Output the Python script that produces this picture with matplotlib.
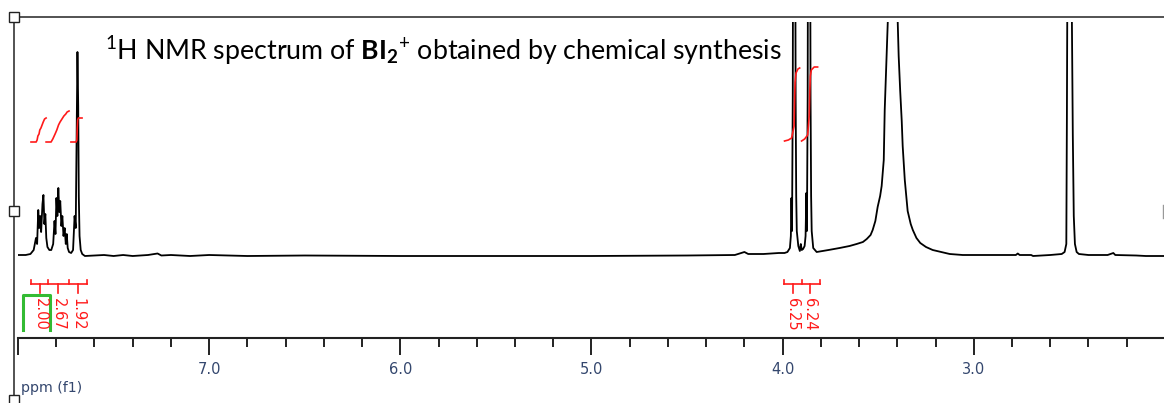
import matplotlib
matplotlib.use("Agg")
import matplotlib.pyplot as plt
from matplotlib.lines import Line2D

# spectrum trace (ppm, intensity in arbitrary units)
ppm = [8.00, 7.96, 7.935, 7.918, 7.906, 7.900, 7.894, 7.889, 7.884, 7.879, 7.872, 7.867,
       7.862, 7.857, 7.852, 7.846, 7.836, 7.826, 7.816, 7.809, 7.804, 7.799, 7.794, 7.789,
       7.784, 7.779, 7.773, 7.768, 7.762, 7.756, 7.750, 7.745, 7.740, 7.733, 7.722, 7.712,
       7.704, 7.698, 7.694, 7.689, 7.685, 7.682, 7.678, 7.672, 7.664, 7.65, 7.55, 7.50,
       7.45, 7.40, 7.32, 7.27, 7.25, 7.20, 7.10, 7.00, 6.80, 6.50, 6.00, 5.50, 5.00, 4.50,
       4.25, 4.20, 4.18, 4.10, 4.02, 3.99, 3.975, 3.962, 3.957, 3.954, 3.951, 3.947, 3.944,
       3.936, 3.932, 3.929, 3.926, 3.918, 3.910, 3.905, 3.900, 3.893, 3.885, 3.880, 3.876,
       3.873, 3.869, 3.866, 3.858, 3.854, 3.851, 3.848, 3.840, 3.822, 3.76, 3.702, 3.65,
       3.613, 3.580, 3.560, 3.540, 3.529, 3.515, 3.503, 3.490, 3.482, 3.471, 3.466, 3.455,
       3.450, 3.440, 3.425, 3.410, 3.398, 3.393, 3.385, 3.377, 3.372, 3.361, 3.346, 3.330,
       3.319, 3.300, 3.28, 3.25, 3.215, 3.17, 3.126, 3.058, 2.95, 2.85, 2.78, 2.77, 2.76,
       2.70, 2.69, 2.60, 2.54, 2.525, 2.516, 2.513, 2.509, 2.500, 2.491, 2.487, 2.482,
       2.477, 2.471, 2.462, 2.45, 2.40, 2.30, 2.27, 2.26, 2.15, 2.10, 2.005]
intensity = [1, 1, 2, 6, 18, 12, 46, 28, 40, 24, 52, 61,
             32, 42, 18, 9, 6, 6, 12, 35, 22, 58, 40, 68,
             44, 55, 30, 40, 20, 28, 12, 22, 8, 4, 3, 6,
             40, 28, 110, 204, 150, 60, 20, 6, 2, 0, 1, 0,
             1, 0, 1, 2.5, 0.5, 1, 0, 1, 0, 0.5, 0, 0, 0, 0.5,
             1, 4, 2, 2, 3, 3, 4, 8, 20, 58, 25, 160, 480,
             480, 160, 60, 25, 10, 5, 12, 6, 7, 10, 20, 63,
             25, 160, 480, 480, 160, 60, 25, 8, 4, 6, 8, 10,
             12, 14, 17, 21, 26, 35, 49, 60, 70, 96, 146, 206,
             234, 320, 390, 330, 234, 200, 165, 135, 110, 76, 45, 32,
             26, 18, 13, 9, 6, 4, 2, 1, 1, 1, 1, 2.5, 1,
             1, 0, 1, 2, 4, 12, 138, 350, 520, 350, 240, 120,
             40, 12, 4, 2, 1, 1, 3, 1, 0.5, 0, 0]

# integral curves
int_ppm = [
    [7.932, 7.905, 7.900, 7.896, 7.890, 7.886, 7.880, 7.874, 7.868, 7.861, 7.853],
    [7.853, 7.827, 7.818, 7.806, 7.797, 7.788, 7.780, 7.770, 7.760, 7.750, 7.743, 7.733],
    [7.723, 7.696, 7.692, 7.690, 7.688, 7.684, 7.665],
    [3.990, 3.970, 3.953, 3.940, 3.937, 3.935, 3.930, 3.920, 3.911],
    [3.901, 3.885, 3.869, 3.861, 3.858, 3.855, 3.850, 3.835, 3.817],
]
int_h = [
    [114, 114, 116, 120, 122, 126, 128, 131, 134, 137, 138],
    [114, 114, 117, 122, 126, 131, 134, 137, 140, 142, 144, 145],
    [114, 114, 116, 128, 136, 138, 138],
    [115, 116, 118, 130, 160, 174, 183, 187, 188],
    [115, 117, 121, 140, 165, 180, 186, 189, 189],
]

# integration regions and values
arom_edges = [7.932, 7.843, 7.733, 7.639]
arom_centers = [7.885, 7.791, 7.686]
arom_labels = ["2.00", "2.67", "1.92"]
ome_edges = [3.995, 3.901, 3.806]
ome_centers = [3.948, 3.859]
ome_labels = ["6.25", "6.24"]

major_ticks = [8.0, 7.0, 6.0, 5.0, 4.0, 3.0]
major_labels = ["", "7.0", "6.0", "5.0", "4.0", "3.0"]

W, H = 1164, 403
fx = lambda px: px / W
fy = lambda py: 1 - py / H

plt.rcParams['mathtext.fontset'] = 'custom'
plt.rcParams['mathtext.rm'] = 'Lato'
plt.rcParams['mathtext.bf'] = 'Lato:bold'
plt.rcParams['mathtext.it'] = 'Lato:italic'

fig = plt.figure(figsize=(W / 100, H / 100), dpi=100)
ax = fig.add_axes([fx(18), fy(338), fx(1164) - fx(18), fy(22) - fy(338)])

ax.plot(ppm, intensity, color='black', lw=1.3)
ax.set_xlim(8.0, 2.005)
ax.set_ylim(-82, 234)

red = '#ff1a1a'
for xs, ys in zip(int_ppm, int_h):
    ax.plot(xs, ys, color=red, lw=1.2)

def brackets(edges, centers, labels):
    ax.plot([edges[0], edges[-1]], [-28, -28], color=red, lw=1.2, clip_on=False)
    for e in edges:
        ax.plot([e, e], [-24, -28], color=red, lw=1.2)
    for c, lab in zip(centers, labels):
        ax.plot([c, c], [-28, -37], color=red, lw=1.2)
        ax.text(c, -42, lab, rotation=270, ha='center', va='top', color=red,
                fontsize=10.5, family='DejaVu Sans')

brackets(arom_edges, arom_centers, arom_labels)
brackets(ome_edges, ome_centers, ome_labels)

# reference integral marker
ax.plot([7.974, 7.974, 7.832, 7.832], [-74, -39, -39, -74], color='#33bb33', lw=2.2)

for s in ['top', 'left', 'right']:
    ax.spines[s].set_visible(False)
ax.spines['bottom'].set_linewidth(1.5)
ax.spines['bottom'].set_color('#222222')
ax.set_yticks([])
ax.set_xticks(major_ticks)
ax.set_xticklabels(major_labels)
ax.set_xticks([round(2.2 + 0.2 * i, 1) for i in range(30)], minor=True)
ax.tick_params(axis='x', which='major', length=12, width=1.4, color='#222222',
               labelsize=10.5, labelcolor='#34476e', pad=5)
ax.tick_params(axis='x', which='minor', length=6.5, width=1.4, color='#222222')

fig.text(fx(21), fy(388), "ppm (f1)", color='#34476e', fontsize=10.2, va='center', ha='left')

fig.text(fx(105), fy(60), r"$^{1}$H NMR spectrum of $\mathbf{BI_{2}}^{+}$ obtained by chemical synthesis",
         family='Lato', fontsize=19.3, va='baseline', ha='left')

# frame pieces
fig.add_artist(Line2D([fx(14), fx(1164)], [fy(17), fy(17)], color='#444444', lw=1.3))
fig.add_artist(Line2D([fx(14), fx(14)], [fy(17), fy(403)], color='#444444', lw=1.3))
fig.add_artist(Line2D([fx(1163), fx(1163)], [fy(205), fy(218)], color='#999999', lw=1.0))
for py in [17, 211, 400]:
    fig.add_artist(Line2D([fx(14)], [fy(py)], marker='s', markersize=7, mfc='white',
                          mec='#222222', mew=1.0, ls='none'))

fig.savefig("out.png", dpi=100)
